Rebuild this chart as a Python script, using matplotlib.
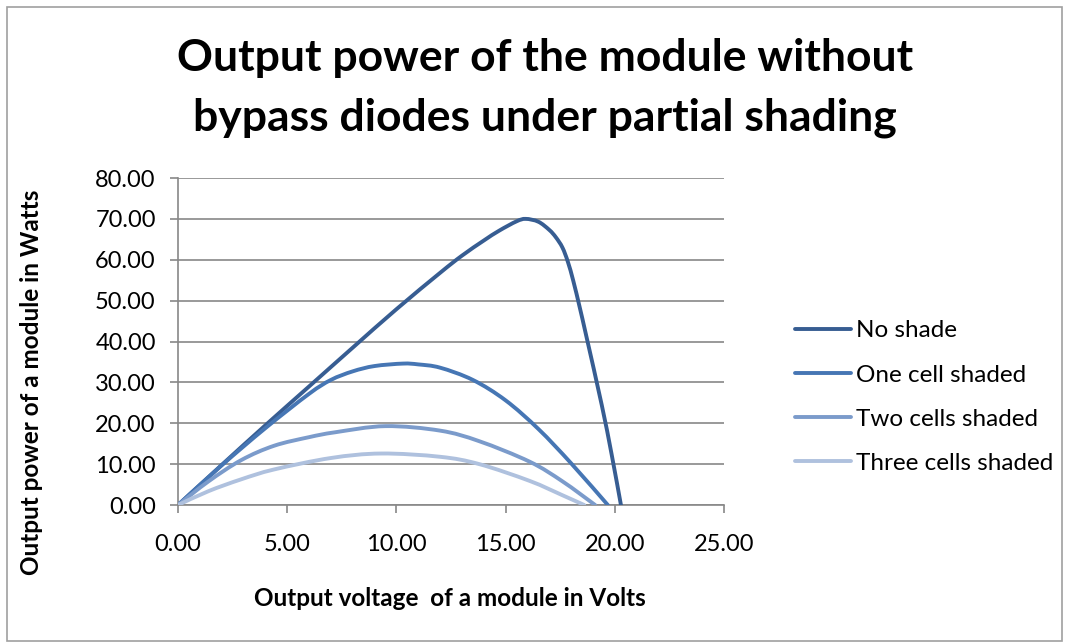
import numpy as np
import matplotlib.pyplot as plt
from matplotlib.patches import Rectangle, PathPatch
from matplotlib.path import Path
from matplotlib.lines import Line2D

# data
v_none = [0, 2, 4, 6, 8, 10, 12, 13, 14, 14.7, 15.5, 15.92, 16.5, 17, 17.3, 17.6, 17.85,
          18.1, 18.4, 18.7, 19.4, 19.85, 20.28]
p_none = [0, 9.8, 19.5, 29, 38.5, 47.9, 56.8, 61.0, 64.7, 67.1, 69.4, 70, 69.3, 67.3, 65.5, 63, 59.5,
          54.8, 48.2, 41.2, 24.5, 12.5, 0]

v_one = [0, 2, 4, 6, 7, 8, 9, 10.3, 11, 12, 13.5, 15, 16.5, 18, 19.68]
p_one = [0, 9.7, 18.8, 27.2, 30.6, 32.7, 34.0, 34.6, 34.4, 33.6, 30.6, 25.6, 18.6, 10.2, 0]

v_two = [0, 1.4, 2.9, 4.4, 6, 7.2, 9.5, 12, 13.8, 16.1, 17.6, 19.1]
p_two = [0, 5.8, 11.0, 14.5, 16.6, 17.8, 19.3, 18.2, 15.6, 10.6, 5.8, 0]

v_three = [0, 1.4, 2.9, 4.4, 7, 9.3, 12, 13.8, 16.1, 17.6, 18.6]
p_three = [0, 3.4, 6.3, 8.7, 11.5, 12.6, 11.8, 10.0, 5.9, 2.4, 0]

names = ['No shade', 'One cell shaded', 'Two cells shaded', 'Three cells shaded']
colors = ['#375D92', '#4676B4', '#7B9BCB', '#AFC1DE']


def smooth_path(v, p):
    # Bezier through the points, like a spreadsheet "smoothed line"
    pts = np.column_stack([v, p]).astype(float)
    n = len(pts)
    verts = [pts[0]]
    codes = [Path.MOVETO]
    for i in range(n - 1):
        p0 = pts[max(i - 1, 0)]
        p1 = pts[i]
        p2 = pts[i + 1]
        p3 = pts[min(i + 2, n - 1)]
        c1 = p1 + (p2 - p0) / 6
        c2 = p2 - (p3 - p1) / 6
        verts += [c1, c2, p2]
        codes += [Path.CURVE4] * 3
    return Path(verts, codes)


plt.rcParams['font.family'] = ['Lato', 'DejaVu Sans']

fig = plt.figure(figsize=(10.69, 6.44), dpi=100)
fig.patches.append(Rectangle((0.007, 0.004), 0.986, 0.985, transform=fig.transFigure,
                             fill=False, edgecolor='#A0A0A0', linewidth=1.2))
ax = fig.add_axes([0.1665, 0.2158, 0.5108, 0.5078])

series = [(v_none, p_none), (v_one, p_one), (v_two, p_two), (v_three, p_three)]
handles = []
for (v, p), name, c in zip(series, names, colors):
    ax.add_patch(PathPatch(smooth_path(v, p), fill=False, edgecolor=c, lw=2.8,
                           capstyle='round', joinstyle='round', zorder=3))
    handles.append(Line2D([], [], color=c, lw=2.8, solid_capstyle='round'))

ax.set_xlim(0, 25)
ax.set_ylim(0, 80)
ax.set_xticks(np.arange(0, 26, 5))
ax.set_yticks(np.arange(0, 81, 10))
ax.xaxis.set_major_formatter(lambda x, pos: f'{x:.2f}')
ax.yaxis.set_major_formatter(lambda y, pos: f'{y:.2f}')
ax.grid(axis='y', color='#888888', lw=1.2)
ax.set_axisbelow(True)
for s in ['top', 'right']:
    ax.spines[s].set_visible(False)
for s in ['left', 'bottom']:
    ax.spines[s].set_color('#888888')
    ax.spines[s].set_linewidth(1.2)
ax.tick_params(colors='#888888', labelcolor='black', labelsize=17, length=6, width=1.2)
ax.tick_params(axis='x', pad=15)
ax.tick_params(axis='y', pad=10)

ax.set_xlabel('Output voltage  of a module in Volts', fontsize=17.5, fontweight='bold')
ax.xaxis.set_label_coords(0.498, -0.252)
ax.set_ylabel('Output power of a module in Watts', fontsize=17.5, fontweight='bold')
ax.yaxis.set_label_coords(-0.247, 0.376)

fig.text(0.51, 0.91, 'Output power of the module without', ha='center', va='center',
         fontsize=32, fontweight='bold')
fig.text(0.51, 0.817, 'bypass diodes under partial shading', ha='center', va='center',
         fontsize=32, fontweight='bold')

ax.legend(handles, names, loc='center left', bbox_to_anchor=(1.09, 0.33), frameon=False,
          fontsize=17.5, handlelength=2.3, handletextpad=0.2, labelspacing=0.95)

fig.savefig('out.png', dpi=100)
